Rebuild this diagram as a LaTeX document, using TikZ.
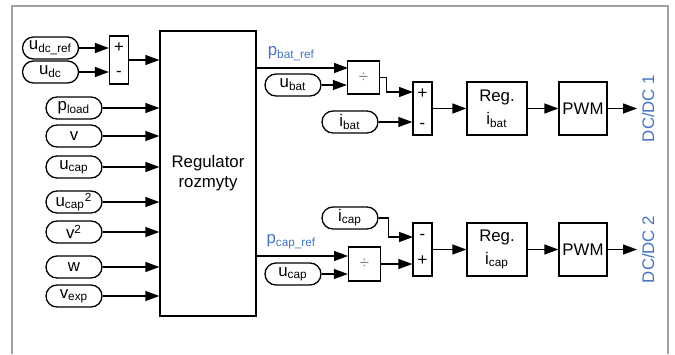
\documentclass[tikz,border=0pt]{standalone}
\usepackage{fontspec}
\setmainfont{Liberation Sans}
\usepackage{xcolor}
\usetikzlibrary{arrows.meta}
\definecolor{sigblue}{HTML}{4472C4}
\definecolor{framegray}{HTML}{A0A0A0}
\definecolor{divgray}{HTML}{888888}

\tikzset{
  sig/.style={draw,rounded corners=5.5pt,minimum width=28pt,minimum height=11pt,inner sep=0pt},
  blk/.style={draw,inner sep=0pt,align=center},
  sumblk/.style={blk,minimum width=9.5pt,minimum height=26.5pt},
  divblk/.style={blk,minimum width=16pt,minimum height=16.5pt},
}

\begin{document}
\begin{tikzpicture}[x=0.5pt,y=-0.5pt,>={Triangle[length=7pt,width=5pt]},line width=0.65pt,
  every node/.style={font=\fontsize{8.4}{10}\selectfont}]
  \useasboundingbox (0,0) rectangle (675,354);
  \draw[framegray,line width=0.75pt] (12,354) -- (12,6) -- (668,6) -- (668,354);

  % fuzzy controller and its inputs
  \node[blk,minimum width=48pt,minimum height=142.5pt] (reg) at (208,173.5) {Regulator\\rozmyty};
  \node[sig] (udcref) at (50.5,48) {u\textsubscript{dc\_ref}};
  \node[sig] (udc) at (50.5,72) {u\textsubscript{dc}};
  \node[sumblk,minimum height=24pt,font=\fontsize{8.4}{12}\selectfont] (sum1) at (119,60) {+\\-};
  \node[sig] (pload) at (74,108) {p\textsubscript{load}};
  \node[sig] (v) at (74,136) {v};
  \node[sig] (ucap) at (74,167) {u\textsubscript{cap}};
  \node[sig] (ucapsq) at (74,202) {u\textsubscript{cap}\textsuperscript{2}};
  \node[sig] (vsq) at (74,232) {v\textsuperscript{2}};
  \node[sig] (w) at (74,267) {w};
  \node[sig] (vexp) at (74,296) {v\textsubscript{exp}};

  \draw[->] (udcref.east) -- (udcref.east -| sum1.west);
  \draw[->] (udc.east) -- (udc.east -| sum1.west);
  \draw[->] (sum1.east) -- (sum1.east -| reg.west);
  \foreach \n in {pload,v,ucap,ucapsq,vsq,w,vexp}
    \draw[->] (\n.east) -- (\n.east -| reg.west);

  % DC/DC 1 branch
  \node[divblk] (div1) at (363.5,77.5) {\textcolor{divgray}{÷}};
  \node[sig] (ubat) at (293,85) {u\textsubscript{bat}};
  \node[sig] (ibat) at (350,122) {i\textsubscript{bat}};
  \node[sumblk,font=\fontsize{8.4}{15}\selectfont] (sum2) at (422.5,108.5) {+\\-};
  \node[blk,minimum width=30pt,minimum height=26.5pt] (regbat) at (497,108.5) {Reg.\\[1.5pt]i\textsubscript{bat}};
  \node[blk,minimum width=24pt,minimum height=26.5pt] (pwm1) at (583,108.5) {PWM};
  \node[sigblue,rotate=90] (dc1) at (648,108.5) {DC/DC 1};
  \coordinate (pbatin) at (348,68);
  \coordinate (sum2p) at (413,92);
  \coordinate (out1) at (637,108.5);

  \draw[->] (reg.east |- pbatin) -- node[pos=0.38,above,sigblue] {p\textsubscript{bat\_ref}} (pbatin);
  \draw[->] (ubat.east) -- (ubat.east -| div1.west);
  \draw[->] (div1.east) -- ++(6,0) |- (sum2p);
  \draw[->] (ibat.east) -- (ibat.east -| sum2.west);
  \draw[->] (sum2.east) -- (sum2.east -| regbat.west);
  \draw[->] (regbat.east) -- (pwm1.west);
  \draw[->] (pwm1.east) -- (out1);

  % DC/DC 2 branch
  \node[divblk,minimum height=17pt] (div2) at (364.5,264) {\textcolor{divgray}{÷}};
  \node[sig] (ucapb) at (293,274) {u\textsubscript{cap}};
  \node[sig] (icap) at (350,218) {i\textsubscript{cap}};
  \node[sumblk,font=\fontsize{8.4}{13}\selectfont] (sum3) at (422.5,249.5) {-\\+};
  \node[blk,minimum width=30pt,minimum height=26.5pt] (regcap) at (497,249.5) {Reg.\\[1.5pt]i\textsubscript{cap}};
  \node[blk,minimum width=24pt,minimum height=26.5pt] (pwm2) at (583,249.5) {PWM};
  \node[sigblue,rotate=90] (dc2) at (648,249.5) {DC/DC 2};
  \coordinate (pcapin) at (348,256);
  \coordinate (sum3m) at (413,237);
  \coordinate (out2) at (637,249.5);

  \draw[->] (reg.east |- pcapin) -- node[pos=0.38,above,sigblue] {p\textsubscript{cap\_ref}} (pcapin);
  \draw[->] (ucapb.east) -- (ucapb.east -| div2.west);
  \draw[->] (icap.east) -- ++(10,0) |- (sum3m);
  \draw[->] (div2.east) -- (div2.east -| sum3.west);
  \draw[->] (sum3.east) -- (sum3.east -| regcap.west);
  \draw[->] (regcap.east) -- (pwm2.west);
  \draw[->] (pwm2.east) -- (out2);
\end{tikzpicture}
\end{document}
